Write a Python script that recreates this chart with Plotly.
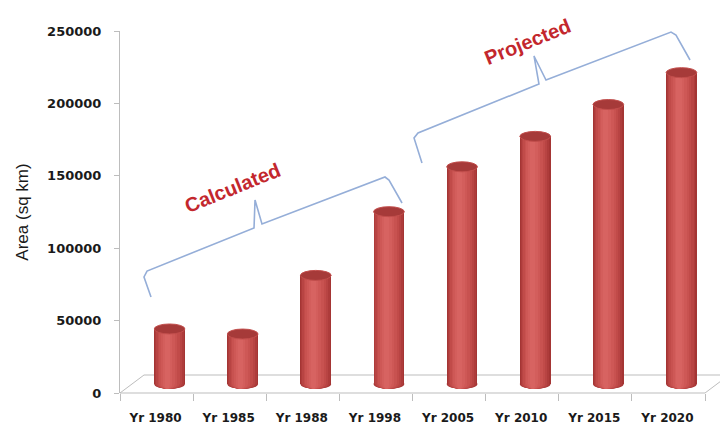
import plotly.graph_objects as go

# ---------------- data ----------------
categories = ["Yr 1980", "Yr 1985", "Yr 1988", "Yr 1998",
              "Yr 2005", "Yr 2010", "Yr 2015", "Yr 2020"]
area_sq_km = [38000, 34500, 75000, 119000, 150000, 171000, 193000, 215000]
y_ticks = [0, 50000, 100000, 150000, 200000, 250000]
group_labels = ["Calculated", "Projected"]

# ---------------- layout constants ----------------
W, H = 720, 429
L, R = 120, 15            # plot left / right margins (px)
T, B = 22, 36             # plot top / bottom margins (px)
PW = W - L - R            # plot width
PH = H - T - B            # plot height (paper)
Y_TOP_TICK = 31           # pixel row of 250000
ZERO_PX = H - B           # pixel row of 0 on the value axis (front edge)
DEPTH_Y = 9               # half depth of the floor (px)
DEPTH_X = 13              # horizontal half depth (px)
px_per_unit = (ZERO_PX - Y_TOP_TICK) / 250000.0
n = len(categories)
cat_px = PW / n

def px2paper(px, py):
    return (px - L) / PW, (ZERO_PX - py) / PH

bar_shift = DEPTH_X / cat_px
xs = list(range(n))

fig = go.Figure()

# empty trace so the visible value axis gets drawn
fig.add_trace(go.Scatter(x=[None], y=[None], xaxis="x", yaxis="y",
                         showlegend=False, hoverinfo="skip"))

# layered bars to fake cylinder shading
layers = [  # (width fraction, centre shift, colour)
    (0.42, 0.000, "#A43534"),
    (0.39, -0.004, "#AE3C3B"),
    (0.35, -0.009, "#B84443"),
    (0.30, -0.014, "#C14B49"),
    (0.25, -0.019, "#C85250"),
    (0.19, -0.024, "#CE5856"),
    (0.13, -0.029, "#D35E5C"),
    (0.07, -0.033, "#D76361"),
]
for w, s, c in layers:
    fig.add_trace(go.Bar(
        x=xs, y=area_sq_km, base=0, width=w, offset=bar_shift + s - w / 2,
        marker=dict(color=c, line=dict(width=0)),
        xaxis="x", yaxis="y2", showlegend=False, hoverinfo="skip"))

shapes = []
# floor (parallelogram)
fl = [px2paper(L, ZERO_PX), px2paper(L + 2 * DEPTH_X - 2, ZERO_PX - 2 * DEPTH_Y),
      px2paper(L + PW + 2 * DEPTH_X - 2, ZERO_PX - 2 * DEPTH_Y), px2paper(L + PW, ZERO_PX)]
path = "M " + " L ".join(f"{a:.4f},{b:.4f}" for a, b in fl) + " Z"
shapes.append(dict(type="path", xref="paper", yref="paper", path=path,
                   fillcolor="white", line=dict(color="#BDBDBD", width=1), layer="below"))

# bottom ellipses (layered like the bars)
for i, v in enumerate(area_sq_km):
    for w, s, c in layers:
        cx = i + bar_shift + s
        shapes.append(dict(type="circle", xref="x", yref="y2",
                           x0=cx - w / 2, x1=cx + w / 2,
                           ysizemode="pixel", yanchor=0, y0=-5, y1=5,
                           fillcolor=c, line=dict(width=0), layer="between"))
# top ellipses
for i, v in enumerate(area_sq_km):
    w = layers[0][0]
    cx = i + bar_shift
    shapes.append(dict(type="circle", xref="x", yref="y2",
                       x0=cx - w / 2, x1=cx + w / 2,
                       ysizemode="pixel", yanchor=v, y0=-5, y1=5,
                       fillcolor="#A63A39", line=dict(color="#C24E4C", width=1),
                       layer="above"))

# braces (pixel outlines converted to paper coordinates)
brace_calc = [(151, 297), (144, 277), (147, 271), (254, 228), (255, 200),
              (262, 224), (385, 177), (389, 180), (402, 203)]
brace_proj = [(422, 163), (414, 138), (418, 133), (539, 84), (534, 56),
              (546, 80), (671, 32), (676, 35), (690, 60)]
for pts in (brace_calc, brace_proj):
    pp = [px2paper(a, b) for a, b in pts]
    shapes.append(dict(type="path", xref="paper", yref="paper",
                       path="M " + " L ".join(f"{a:.4f},{b:.4f}" for a, b in pp),
                       line=dict(color="#95AED8", width=1.6), layer="above"))

annotations = []
for label, (px, py) in zip(group_labels, [(232, 188), (527, 42)]):
    ax_, ay_ = px2paper(px, py)
    annotations.append(dict(text=label, xref="paper", yref="paper", x=ax_, y=ay_,
                            xanchor="center", yanchor="middle",
                            showarrow=False, textangle=-22,
                            font=dict(family="Liberation Sans", size=20, color="#C3272D",
                                      weight="bold")))

y1_top = (ZERO_PX - Y_TOP_TICK) / PH
y2_low = -(DEPTH_Y / px_per_unit)
y2_high = (ZERO_PX - DEPTH_Y - T) / px_per_unit

fig.update_layout(
    width=W, height=H,
    margin=dict(l=L, r=R, t=T, b=B, autoexpand=False),
    paper_bgcolor="white", plot_bgcolor="rgba(0,0,0,0)",
    barmode="overlay", bargap=0,
    shapes=shapes, annotations=annotations,
    xaxis=dict(range=[-0.5, n - 0.5], tickvals=xs, ticktext=categories,
               showline=False, showgrid=False, zeroline=False, ticks="",
               ticklabelstandoff=16, ticklabelshift=-1, automargin=False,
               tickfont=dict(family="DejaVu Sans", size=12, color="#1A1A1A", weight="bold"),
               minor=dict(tickvals=[i - 0.5 for i in range(n + 1)], ticks="outside",
                          ticklen=7, tickcolor="#BDBDBD", tickwidth=1),
               anchor="y", fixedrange=True),
    yaxis=dict(domain=[0, y1_top], range=[0, 250000], tickvals=y_ticks,
               ticktext=[str(v) for v in y_ticks],
               showline=True, linecolor="#BDBDBD", linewidth=1,
               ticks="outside", ticklen=5, tickcolor="#BDBDBD",
               showgrid=False, zeroline=False, ticklabelstandoff=10, automargin=False,
               tickfont=dict(family="DejaVu Sans", size=13, color="#1A1A1A", weight="bold"),
               title=dict(text="Area (sq km)", standoff=14,
                          font=dict(family="Liberation Sans", size=17, color="#1A1A1A")),
               anchor="x", fixedrange=True),
    yaxis2=dict(domain=[0, 1], range=[y2_low, y2_high], visible=False,
                anchor="x", fixedrange=True),
)

fig.write_html("out.html")
